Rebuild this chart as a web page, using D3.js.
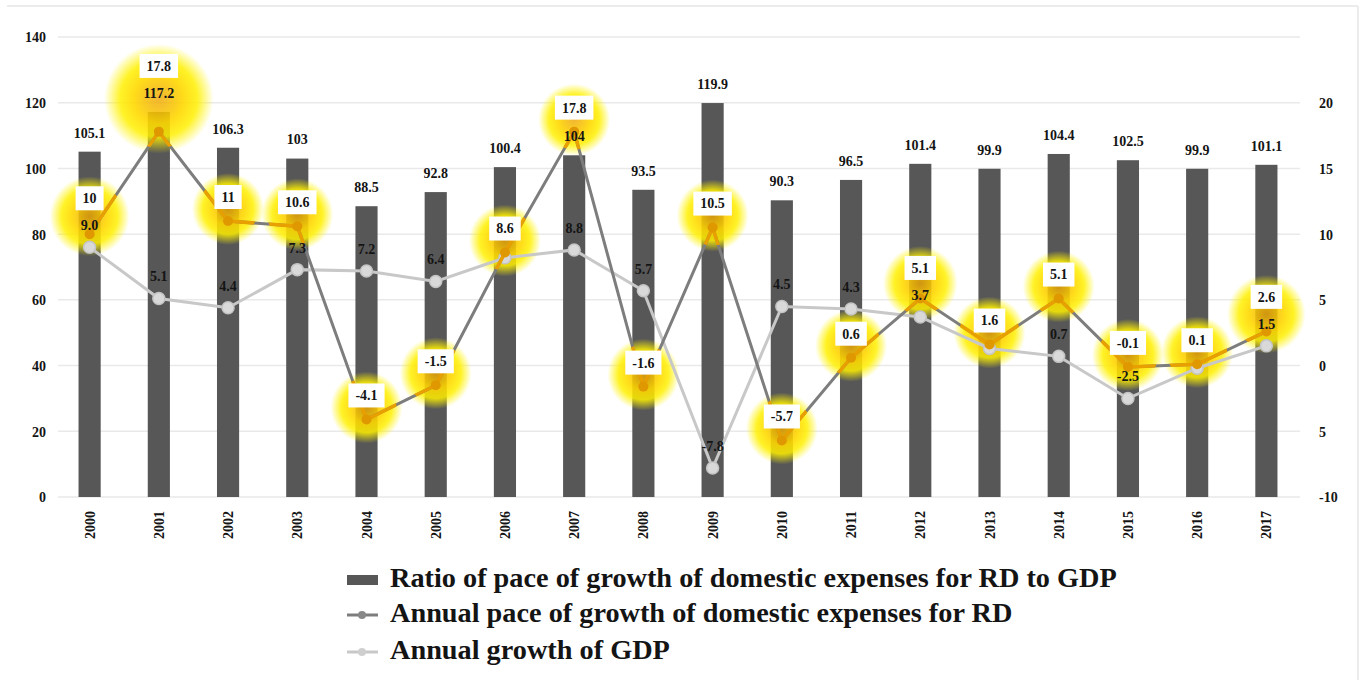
<!DOCTYPE html>
<html>
<head>
<meta charset="utf-8">
<script src="https://cdn.jsdelivr.net/npm/d3@7"></script>
<style>
  body { margin: 0; background: #fff; }
  svg text { font-family: "Liberation Serif", "DejaVu Serif", serif; font-weight: bold; fill: #141414; }
</style>
</head>
<body>
<svg id="chart" width="1361" height="680"></svg>
<script>
// Years on the category axis
const years = ["2000","2001","2002","2003","2004","2005","2006","2007","2008",
               "2009","2010","2011","2012","2013","2014","2015","2016","2017"];
// Ratio of pace of growth of domestic expenses for RD to GDP (bars, left axis)
const ratioRD = [105.1,117.2,106.3,103,88.5,92.8,100.4,104,93.5,
                 119.9,90.3,96.5,101.4,99.9,104.4,102.5,99.9,101.1];
// Annual pace of growth of domestic expenses for RD, % (right axis)
const growthRD = [10,17.8,11,10.6,-4.1,-1.5,8.6,17.8,-1.6,
                  10.5,-5.7,0.6,5.1,1.6,5.1,-0.1,0.1,2.6];
// Annual growth of GDP, % (right axis)
const growthGDP = [9.0,5.1,4.4,7.3,7.2,6.4,8.2,8.8,5.7,
                   -7.8,4.5,4.3,3.7,1.3,0.7,-2.5,-0.2,1.5];
// Which GDP points carry a value label
const gdpLabelShown = [1,1,1,1,1,1,0,1,1,1,1,1,1,0,1,1,0,1];
// Axis ticks
const leftTicks = [0,20,40,60,80,100,120,140];
const rightTicks = [-10,-5,0,5,10,15,20];
const rightTickLabels = ["-10","5","0","5","10","15","20"];
// Legend entries
const legendLabels = [
  "Ratio of pace of growth of domestic expenses for RD to GDP",
  "Annual pace of growth of domestic expenses for RD",
  "Annual growth of GDP"
];

const svg = d3.select("#chart");
const plot = { left: 55, right: 1301, top: 37, bottom: 497 };

const x = d3.scaleBand().domain(years).range([plot.left, plot.right])
  .paddingInner(0.68).paddingOuter(0.34);
const yL = d3.scaleLinear().domain([0, 140]).range([plot.bottom, plot.top]);
const yR = d3.scaleLinear().domain([-10, 25]).range([plot.bottom, plot.top]);
const cx = d => x(d) + x.bandwidth() / 2;

const COLORS = {
  bar: "#575757", rd: "#7d7d7d", gdp: "#c8c8c8",
  grid: "#e9e9e9", orange: "#e8a000", frame: "#ececec"
};

// outer frame (top and right edges)
svg.append("line").attr("x1", 7).attr("x2", 1358).attr("y1", 6).attr("y2", 6)
  .attr("stroke", COLORS.frame).attr("stroke-width", 2);
svg.append("line").attr("x1", 1358).attr("x2", 1358).attr("y1", 6).attr("y2", 680)
  .attr("stroke", COLORS.frame).attr("stroke-width", 2);

const defs = svg.append("defs");
const grad = defs.append("radialGradient").attr("id", "halo");
[[0, "#eea400", 0.8], [0.45, "#ffd800", 0.9], [0.7, "#fff000", 0.85], [1, "#fff400", 0]]
  .forEach(([o, c, a]) => grad.append("stop").attr("offset", o).attr("stop-color", c).attr("stop-opacity", a));

// gridlines from the left axis
svg.append("g")
  .selectAll("line").data(leftTicks).join("line")
  .attr("x1", 58).attr("x2", 1300)
  .attr("y1", d => yL(d)).attr("y2", d => yL(d))
  .attr("stroke", COLORS.grid).attr("stroke-width", 1.5);

// left axis
const leftAxis = svg.append("g").attr("transform", `translate(${plot.left - 9},0)`)
  .call(d3.axisLeft(yL).tickValues(leftTicks).tickSize(0).tickPadding(0));
leftAxis.select(".domain").remove();
leftAxis.selectAll("text").style("font-size", "14px").attr("dy", "0.35em");

// right axis
const rightAxis = svg.append("g").attr("transform", `translate(1319,0)`)
  .call(d3.axisRight(yR).tickValues(rightTicks).tickSize(0).tickPadding(0)
    .tickFormat((d, i) => rightTickLabels[i]));
rightAxis.select(".domain").remove();
rightAxis.selectAll("text").style("font-size", "14px").attr("dy", "0.35em");

// category labels, rotated
svg.append("g").selectAll("text").data(years).join("text")
  .attr("transform", d => `translate(${cx(d) + 5},${plot.bottom + 14}) rotate(-90)`)
  .attr("text-anchor", "end")
  .style("font-size", "14px")
  .text(d => d);

// bars
svg.append("g").selectAll("rect").data(years).join("rect")
  .attr("x", d => x(d)).attr("width", x.bandwidth())
  .attr("y", (d, i) => yL(ratioRD[i]))
  .attr("height", (d, i) => yL(0) - yL(ratioRD[i]))
  .attr("fill", COLORS.bar);

// label anchor heights (text centre lines), shifted up where they would collide
const barLabelY = ratioRD.map(v => yL(v) - 19);
const gdpLabelY = growthGDP.map(v => yR(v) - 22);
const rdLabelY = growthRD.map((v, i) => {
  let y = yR(v) - 24;
  const others = [barLabelY[i]];
  if (gdpLabelShown[i]) others.push(gdpLabelY[i]);
  others.sort((a, b) => b - a).forEach(o => { if (Math.abs(y - o) < 24) y = o - 27; });
  return y;
});

// highlight halos around each RD value
const haloCenters = years.map((d, i) => ({
  x: cx(d), y: (yR(growthRD[i]) + rdLabelY[i]) / 2
}));
const haloR = years.map((d, i) => Math.max(36, (yR(growthRD[i]) - rdLabelY[i]) / 2 + 22));
svg.append("g").selectAll("circle").data(haloCenters).join("circle")
  .attr("cx", d => d.x).attr("cy", d => d.y).attr("r", (d, i) => haloR[i])
  .attr("fill", "url(#halo)");

// GDP line
const gdpPts = years.map((d, i) => [cx(d), yR(growthGDP[i])]);
svg.append("path").attr("d", d3.line()(gdpPts))
  .attr("fill", "none").attr("stroke", COLORS.gdp).attr("stroke-width", 3);
svg.append("g").selectAll("circle").data(gdpPts).join("circle")
  .attr("cx", d => d[0]).attr("cy", d => d[1]).attr("r", 6)
  .attr("fill", "#d9d9d9").attr("stroke", "#c4c4c4").attr("stroke-width", 1.5);

// RD line: gray, with an orange copy inside the halos
const rdPts = years.map((d, i) => [cx(d), yR(growthRD[i])]);
svg.append("path").attr("d", d3.line()(rdPts))
  .attr("fill", "none").attr("stroke", COLORS.rd).attr("stroke-width", 3);
const clip = defs.append("clipPath").attr("id", "haloClip");
clip.selectAll("circle").data(haloCenters).join("circle")
  .attr("cx", d => d.x).attr("cy", d => d.y).attr("r", (d, i) => haloR[i] - 6);
svg.append("path").attr("d", d3.line()(rdPts)).attr("clip-path", "url(#haloClip)")
  .attr("fill", "none").attr("stroke", COLORS.orange).attr("stroke-width", 3.5);
svg.append("g").selectAll("circle").data(rdPts).join("circle")
  .attr("cx", d => d[0]).attr("cy", d => d[1]).attr("r", 5)
  .attr("fill", "#e09800");

// bar value labels
svg.append("g").selectAll("text").data(years).join("text")
  .attr("x", d => cx(d)).attr("y", (d, i) => barLabelY[i]).attr("dy", "0.35em")
  .attr("text-anchor", "middle").style("font-size", "14px")
  .text((d, i) => String(ratioRD[i]));

// GDP value labels
svg.append("g").selectAll("text").data(years.filter((d, i) => gdpLabelShown[i])).join("text")
  .attr("x", d => cx(d)).attr("y", d => gdpLabelY[years.indexOf(d)]).attr("dy", "0.35em")
  .attr("text-anchor", "middle").style("font-size", "14px")
  .text(d => growthGDP[years.indexOf(d)].toFixed(1));

// RD value labels in white boxes
const rdLab = svg.append("g").selectAll("g").data(years).join("g")
  .attr("transform", (d, i) => `translate(${cx(d)},${rdLabelY[i]})`);
rdLab.append("rect").attr("fill", "#fff");
rdLab.append("text").attr("text-anchor", "middle").attr("dy", "0.35em")
  .style("font-size", "14px")
  .text((d, i) => String(growthRD[i]));
rdLab.each(function () {
  const g = d3.select(this);
  const bb = g.select("text").node().getBBox();
  g.select("rect").attr("x", bb.x - 7).attr("y", -12)
    .attr("width", bb.width + 14).attr("height", 24);
});

// legend
const legend = svg.append("g");
const lgY = [580, 615, 652];
legend.append("rect").attr("x", 347).attr("y", lgY[0] - 5).attr("width", 31).attr("height", 10)
  .attr("fill", COLORS.bar);
[[COLORS.rd, "#888", lgY[1]], [COLORS.gdp, "#cfcfcf", lgY[2]]].forEach(([c, f, yy]) => {
  legend.append("line").attr("x1", 347).attr("x2", 378).attr("y1", yy).attr("y2", yy)
    .attr("stroke", c).attr("stroke-width", 3);
  legend.append("circle").attr("cx", 362).attr("cy", yy).attr("r", 4).attr("fill", f);
});
const lgText = legend.selectAll("text").data(legendLabels).join("text")
  .attr("x", 390).attr("y", (d, i) => lgY[i] + 7)
  .style("font-size", "22px")
  .text(d => d);
// size the legend so the longest entry spans the same width as the chart's legend block
const w0 = lgText.node().getComputedTextLength();
lgText.style("font-size", (22 * 727 / w0).toFixed(2) + "px");
</script>
</body>
</html>
